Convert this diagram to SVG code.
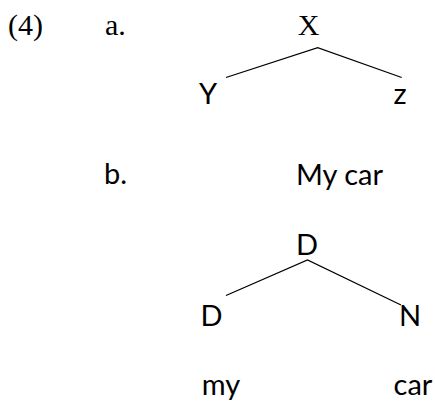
<svg xmlns="http://www.w3.org/2000/svg" width="435" height="403" viewBox="0 0 435 403">
<style>
.serif{font-family:"Liberation Serif","Times New Roman",serif;font-size:30px;fill:#000}
.sans{font-family:Lato,"Open Sans",sans-serif;font-size:29px;fill:#000}
.edge{stroke:#000;stroke-width:1.3;fill:none}
</style>
<rect width="435" height="403" fill="#fff"/>
<g id="labels">
<text class="serif" x="8" y="35">(4)</text>
<text class="serif" x="105" y="35">a.</text>
<text class="sans" x="104" y="184">b.</text>
<text class="sans" x="296" y="185">My car</text>
</g>
<g id="treeA">
<g id="nodeX"><text class="serif" x="308.5" y="35" text-anchor="middle">X</text></g>
<g id="nodeY"><text class="sans" x="208" y="104" text-anchor="middle">Y</text></g>
<g id="nodeZ"><text class="sans" x="400" y="104" text-anchor="middle">z</text></g>
</g>
<g id="treeB">
<g id="nodeDtop"><text class="sans" x="307" y="255" text-anchor="middle">D</text></g>
<g id="nodeD"><text class="sans" x="211.5" y="326" text-anchor="middle">D</text></g>
<g id="nodeN"><text class="sans" x="410" y="326" text-anchor="middle">N</text></g>
<g id="wordMy"><text class="sans" x="221" y="395" text-anchor="middle">my</text></g>
<g id="wordCar"><text class="sans" x="413" y="395" text-anchor="middle">car</text></g>
</g>
<g id="connectors">
<polyline class="edge" points="226,77.5 317.7,47.7 401.7,77.5"/>
<polyline class="edge" points="226,295.5 307.5,260 401,305"/>
</g>
</svg>
